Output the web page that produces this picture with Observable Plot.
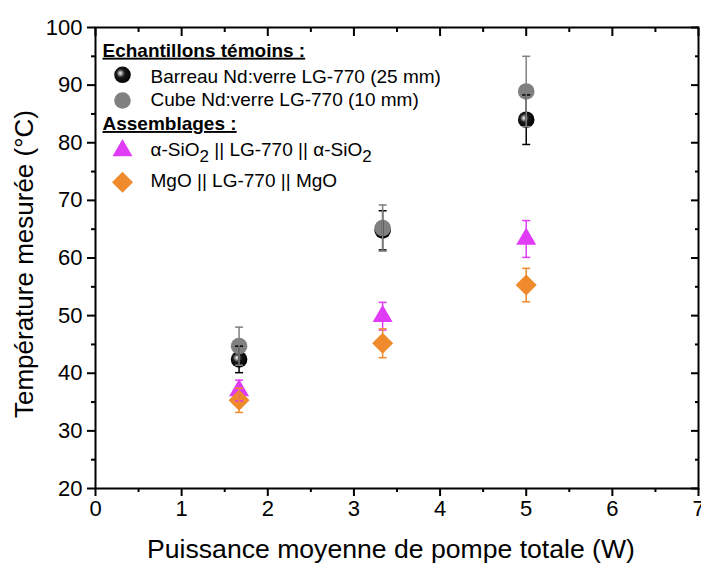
<!DOCTYPE html>
<html><head><meta charset="utf-8">
<script src="https://cdn.jsdelivr.net/npm/d3@7"></script>
<script src="https://cdn.jsdelivr.net/npm/@observablehq/plot@0.6"></script>
<style>
body{margin:0;background:#fff;}
svg{font-family:Arial,"Liberation Sans",sans-serif;}
</style>
</head><body><div id="chart"></div>
<script>
// ---- data ----
const power = [5/3, 10/3, 5];
const barreau = [42.4, 64.8, 84.0];
const barreauErr = [2.3, 3.4, 4.3];
const cube = [44.7, 65.2, 88.9];
const cubeErr = [3.3, 4.0, 6.1];
const silica = [37.0, 49.9, 63.3];
const silicaErr = [1.8, 2.4, 3.2];
const mgo = [35.3, 45.2, 55.3];
const mgoErr = [2.1, 2.5, 2.9];
const seriesNames = ["Barreau Nd:verre LG-770 (25 mm)", "Cube Nd:verre LG-770 (10 mm)", "α-SiO2 || LG-770 || α-SiO2", "MgO || LG-770 || MgO"];
const groupTitles = ["Echantillons témoins :", "Assemblages :"];
const xTicks = [0, 1, 2, 3, 4, 5, 6, 7];
const xMinor = [0.5, 1.5, 2.5, 3.5, 4.5, 5.5, 6.5];
const yTicks = [20, 30, 40, 50, 60, 70, 80, 90, 100];
const yMinor = [25, 35, 45, 55, 65, 75, 85, 95];
const xTitle = "Puissance moyenne de pompe totale (W)";
const yTitle = "Température mesurée (°C)";

const colors = {black: "#000000", gray: "#808080", pink: "#e03cf5", orange: "#ef8a2d"};

function rows(vals, errs) {
  return power.map((x, i) => ({x, y: vals[i], lo: vals[i] - errs[i], hi: vals[i] + errs[i]}));
}
const rB = rows(barreau, barreauErr);
const rC = rows(cube, cubeErr);
const rS = rows(silica, silicaErr);
const rM = rows(mgo, mgoErr);

const capSymbol = {draw(ctx) { ctx.moveTo(-4, 0); ctx.lineTo(4, 0); }};
function errMarks(r, color) {
  return [
    Plot.ruleX(r, {x: "x", y1: "lo", y2: "hi", stroke: color, strokeWidth: 1.5}),
    Plot.dot(r, {x: "x", y: "lo", symbol: capSymbol, r: 3, fill: "none", stroke: color, strokeWidth: 1.5}),
    Plot.dot(r, {x: "x", y: "hi", symbol: capSymbol, r: 3, fill: "none", stroke: color, strokeWidth: 1.5})
  ];
}
const symStyle = [
  {symbol: "circle", r: 8.3, fill: "url(#sphereGrad)"},
  {symbol: "circle", r: 8.3, fill: colors.gray},
  {symbol: "triangle", r: 7.42, fill: colors.pink},
  {symbol: "diamond2", r: 9.46, fill: colors.orange}
];
const legendDy = [47.3, 73, 123, 154.7];
const legendTextDy = [49.8, 72.1, 122.1, 153.8];
const headingDy = [23.1, 96.4];

const fs = 19;
const legendMarks = [];
headingDy.forEach((dy, i) => legendMarks.push(
  Plot.text([groupTitles[i]], {text: d => d, frameAnchor: "top-left", dx: 7, dy, textAnchor: "start", lineAnchor: "middle", fontSize: fs, fontWeight: "bold", fill: "black"})
));
seriesNames.forEach((name, i) => {
  legendMarks.push(Plot.dot([name], {frameAnchor: "top-left", dx: 27, dy: legendDy[i], stroke: "none", ...symStyle[i]}));
  legendMarks.push(Plot.text([name], {text: d => d, frameAnchor: "top-left", dx: 55, dy: legendTextDy[i], textAnchor: "start", lineAnchor: "middle", fontSize: fs, fill: "black"}));
});

const plot = Plot.plot({
  width: 701,
  height: 566,
  marginLeft: 95,
  marginRight: 3,
  marginTop: 27,
  marginBottom: 78,
  style: {fontFamily: "Arial, 'Liberation Sans', sans-serif", color: "black", background: "white"},
  x: {domain: [0, 7], label: null},
  y: {domain: [20, 100], label: null},
  marks: [
    Plot.axisX({anchor: "bottom", ticks: xTicks, tickSize: 8, tickPadding: 4, fontSize: 22, strokeWidth: 2, label: null, tickFormat: d => d}),
    Plot.axisX({anchor: "bottom", ticks: xMinor, tickSize: 4, strokeWidth: 2, label: null, tickFormat: () => ""}),
    Plot.axisX({anchor: "top", ticks: xTicks, tickSize: -8, strokeWidth: 2, label: null, tickFormat: () => ""}),
    Plot.axisX({anchor: "top", ticks: xMinor, tickSize: -4, strokeWidth: 2, label: null, tickFormat: () => ""}),
    Plot.axisY({anchor: "left", ticks: yTicks, tickSize: 8, tickPadding: 5, fontSize: 22, strokeWidth: 2, label: null, tickFormat: d => d}),
    Plot.axisY({anchor: "left", ticks: yMinor, tickSize: 4, strokeWidth: 2, label: null, tickFormat: () => ""}),
    Plot.axisY({anchor: "right", ticks: yTicks, tickSize: -8, strokeWidth: 2, label: null, tickFormat: () => ""}),
    Plot.axisY({anchor: "right", ticks: yMinor, tickSize: -4, strokeWidth: 2, label: null, tickFormat: () => ""}),
    Plot.frame({stroke: "black", strokeWidth: 2}),
    Plot.dot(rB, {x: "x", y: "y", stroke: "none", ...symStyle[0]}),
    Plot.dot(rC, {x: "x", y: "y", stroke: "none", ...symStyle[1]}),
    Plot.dot(rS, {x: "x", y: "y", stroke: "none", ...symStyle[2]}),
    Plot.dot(rM, {x: "x", y: "y", stroke: "none", ...symStyle[3]}),
    ...errMarks(rB, colors.black),
    ...errMarks(rC, colors.gray),
    ...errMarks(rS, colors.pink),
    ...errMarks(rM, colors.orange),
    ...legendMarks,
    Plot.text([xTitle], {text: d => d, frameAnchor: "bottom", dx: -6, dy: 61, textAnchor: "middle", lineAnchor: "middle", fontSize: 26.6, fill: "black"}),
    Plot.text([yTitle], {text: d => d, frameAnchor: "left", dx: -71, dy: 6, rotate: -90, textAnchor: "middle", lineAnchor: "middle", fontSize: 26, fill: "black"})
  ]
});

// gradient for the shaded black sphere
const svg = d3.select(plot);
const defs = svg.insert("defs", ":first-child");
const g = defs.append("radialGradient").attr("id", "sphereGrad")
  .attr("cx", 0.42).attr("cy", 0.42).attr("r", 0.6).attr("fx", 0.36).attr("fy", 0.4);
g.append("stop").attr("offset", "0").attr("stop-color", "#ffffff");
g.append("stop").attr("offset", "0.14").attr("stop-color", "#b0b0b0");
g.append("stop").attr("offset", "0.42").attr("stop-color", "#1a1a1a");
g.append("stop").attr("offset", "1").attr("stop-color", "#000000");

// underline headings, subscripts in silica label
svg.selectAll("text").each(function() {
  const t = this.textContent;
  if (groupTitles.includes(t)) d3.select(this).style("text-decoration", "underline");
  if (t === seriesNames[2]) {
    const el = d3.select(this);
    el.text(null);
    el.append("tspan").text("α-SiO");
    el.append("tspan").attr("dy", 6).attr("font-size", 17).text("2");
    el.append("tspan").attr("dy", -6).text(" || LG-770 || α-SiO");
    el.append("tspan").attr("dy", 6).attr("font-size", 17).text("2");
  }
});

document.getElementById("chart").appendChild(plot);
</script>
</body></html>
